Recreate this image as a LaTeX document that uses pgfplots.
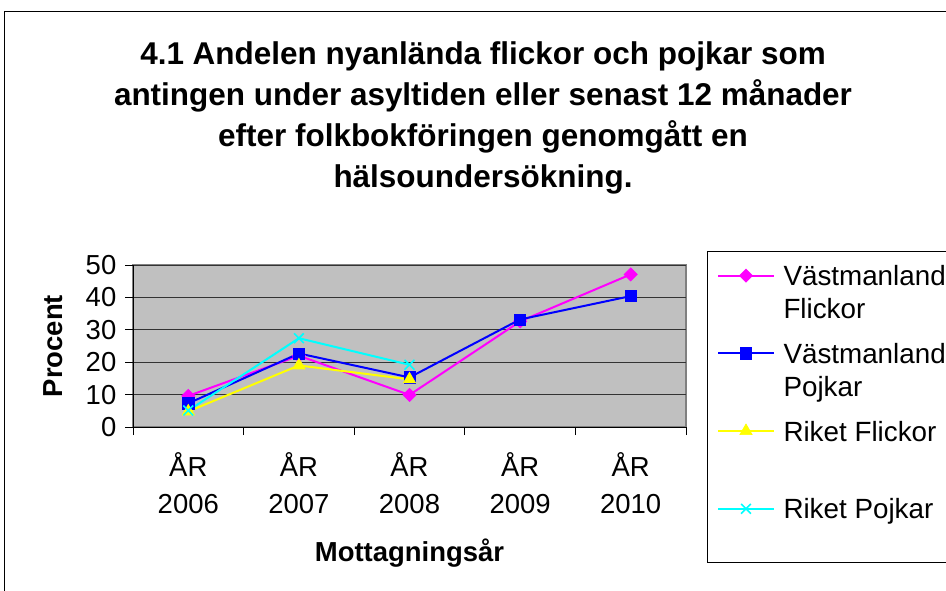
\documentclass[border=0pt]{standalone}
\usepackage{fontspec}
\setmainfont{Liberation Sans}
\usepackage{pgfplots}
\pgfplotsset{compat=1.18}
\definecolor{plotgray}{HTML}{C0C0C0}
\definecolor{vf}{HTML}{FF00FF}
\definecolor{vp}{HTML}{0000FF}
\definecolor{rf}{HTML}{FFFF00}
\definecolor{rp}{HTML}{00FFFF}
\begin{document}
\begin{tikzpicture}
\useasboundingbox (0pt,0pt) rectangle (709.5pt,442.5pt);
\draw[black, line width=0.75pt] (3pt,-20pt) rectangle (740pt,433.5pt);
\begin{scope}[every node/.style={anchor=base, inner sep=0pt, font=\bfseries\fontsize{23.6}{30}\selectfont}]
\node at (362.25pt,393.75pt) {4.1 Andelen nyanlända flickor och pojkar som};
\node at (362.25pt,363pt) {antingen under asyltiden eller senast 12 månader};
\node at (362.25pt,332.25pt) {efter folkbokföringen genomgått en};
\node at (362.25pt,301.5pt) {hälsoundersökning.};
\end{scope}
\begin{axis}[
  at={(99.75pt,122.25pt)}, anchor=south west,
  width=414.75pt, height=121.5pt, scale only axis,
  xmin=-0.5, xmax=4.5, ymin=0, ymax=50,
  enlargelimits=false,
  axis lines=left,
  axis line style={-, black, line width=0.75pt},
  axis background/.style={fill=plotgray, draw=gray, line width=1pt},
  tick align=outside,
  major tick length=6pt,
  tick style={black, line width=0.75pt},
  ytick={0,10,...,50},
  ymajorgrids,
  major grid style={black!80, line width=0.75pt},
  xtick={-0.5,0.5,1.5,2.5,3.5,4.5},
  xticklabels={{},{},{},{},{},{}},
  extra x ticks={0,1,2,3,4},
  extra x tick labels={{ÅR\\2006},{ÅR\\2007},{ÅR\\2008},{ÅR\\2009},{ÅR\\2010}},
  extra x tick style={major tick length=0pt, grid=none,
    tick label style={align=center, anchor=base, yshift=-64.5pt, font=\fontsize{20.6}{27.75}\selectfont}},
  yticklabel style={font=\fontsize{20.6}{24}\selectfont, xshift=-3pt},
  /pgf/number format/assume math mode=true,
  xlabel={Mottagningsår},
  ylabel={Procent},
  xlabel style={at={(axis description cs:0.5,-0.8333)}, anchor=base, font=\bfseries\fontsize{20.6}{24}\selectfont},
  ylabel style={at={(axis description cs:-0.1266,0.5)}, anchor=base, font=\bfseries\fontsize{20.6}{24}\selectfont},
  legend style={at={(1.03797,1.08642)}, anchor=north west, draw=black, fill=white,
    line width=0.75pt,
    inner xsep=7.5pt, inner ysep=8.25pt, row sep=0pt, column sep=6.75pt,
    font=\fontsize{20.85}{24.75}\selectfont,
    nodes={inner sep=0pt, text depth={}},
    cells={anchor=base west}},
  legend image code/.code={\draw[mark repeat=2,mark phase=2,#1] plot coordinates {(0pt,0pt)(20.625pt,0pt)(41.25pt,0pt)};},
  legend image post style={yshift=7.5pt},
]
\addplot[vf, line width=1.5pt, mark=square*, mark size=3.5pt, mark options={solid, fill=vf, line width=0.5pt, rotate=45}]
  coordinates {(0,9.6)(1,22)(2,9.9)(3,32.6)(4,47.1)};
\addlegendentry{\parbox[t][58.3pt][t]{130pt}{\strut Västmanland\newline Flickor}}
\addplot[vp, line width=1.5pt, mark=square*, mark size=4.2pt, mark options={solid, fill=vp, line width=0.5pt}]
  coordinates {(0,7.3)(1,22.7)(2,15.3)(3,33.2)(4,40.4)};
\addlegendentry{\parbox[t][58.3pt][t]{130pt}{\strut Västmanland\newline Pojkar}}
\addplot[rf, line width=1.5pt, mark=triangle*, mark size=5.3pt, mark options={solid, fill=rf, line width=0.5pt}]
  coordinates {(0,4.8)(1,19)(2,14.7)};
\addlegendentry{\parbox[t][58.3pt][t]{130pt}{\strut Riket Flickor}}
\addplot[rp, line width=1.5pt, mark=x, mark size=5.2pt, mark options={solid, line width=1.2pt}]
  coordinates {(0,5.1)(1,27.4)(2,19.2)};
\addlegendentry{\parbox[t][42pt][t]{130pt}{\strut Riket Pojkar}}
\end{axis}
\end{tikzpicture}
\end{document}
